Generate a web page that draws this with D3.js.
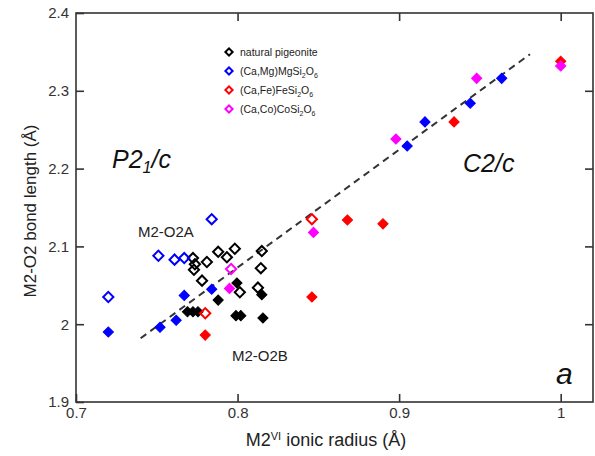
<!DOCTYPE html>
<html>
<head>
<meta charset="utf-8">
<script src="https://cdn.jsdelivr.net/npm/d3@7"></script>
<style>
  body { margin: 0; background: #fff; }
  text { font-family: Arial, "Liberation Sans", sans-serif; }
</style>
</head>
<body>
<div id="vis"></div>
<script>
// Data: [ionic radius, bond length]
let pigeoniteOpen = [[0.7724, 2.085], [0.7736, 2.077], [0.773, 2.070], [0.781, 2.080], [0.788, 2.093],
  [0.7934, 2.086], [0.7983, 2.097], [0.815, 2.094], [0.8144, 2.072], [0.778, 2.056], [0.8014, 2.041], [0.8126, 2.047]];
let pigeoniteFilled = [[0.769, 2.016], [0.7724, 2.016], [0.7755, 2.016], [0.788, 2.031], [0.7996, 2.053],
  [0.799, 2.011], [0.802, 2.011], [0.8157, 2.008], [0.815, 2.038]];
let mgOpen = [[0.72, 2.035], [0.751, 2.088], [0.761, 2.083], [0.767, 2.085], [0.784, 2.135]];
let mgFilled = [[0.72, 1.99], [0.752, 1.996], [0.762, 2.005], [0.767, 2.037], [0.784, 2.045],
  [0.905, 2.229], [0.916, 2.26], [0.944, 2.284], [0.9635, 2.316]];
let feOpen = [[0.78, 2.014], [0.846, 2.135]];
let feFilled = [[0.78, 1.986], [0.846, 2.035], [0.868, 2.134], [0.89, 2.129], [0.934, 2.26], [1.0, 2.338]];
let coOpen = [[0.796, 2.071]];
let coFilled = [[0.795, 2.046], [0.847, 2.118], [0.898, 2.238], [0.948, 2.316], [1.0, 2.332]];
let trendLine = [[0.74, 1.982], [0.981, 2.347]];

let xTicks = [0.7, 0.8, 0.9, 1.0];
let xTickLabels = ['0.7', '0.8', '0.9', '1'];
let yTicks = [1.9, 2.0, 2.1, 2.2, 2.3, 2.4];
let yTickLabels = ['1.9', '2', '2.1', '2.2', '2.3', '2.4'];

let legendNames = ['natural pigeonite', '(Ca,Mg)MgSi', '(Ca,Fe)FeSi', '(Ca,Co)CoSi'];
let legendColors = ['#000000', '#0000ff', '#ff0000', '#ff00ff'];

// Set up dimensions
let width = 595,
    height = 456;

let margin = { top: 13, bottom: 54, left: 76, right: 2 };

let svg = d3.select('#vis')
            .append('svg')
            .attr('width', width)
            .attr('height', height);

let xScale = d3.scaleLinear()
    .domain([0.7, 1.02])
    .range([margin.left, width - margin.right]);

let yScale = d3.scaleLinear()
    .domain([1.9, 2.4])
    .range([height - margin.bottom, margin.top]);

let axisColor = '#333';

// Axes with inward ticks
let xAxis = svg.append('g')
    .attr('transform', `translate(0, ${height - margin.bottom})`)
    .call(d3.axisBottom(xScale).tickValues(xTicks)
      .tickFormat((d, i) => xTickLabels[i]).tickSizeInner(-8).tickSizeOuter(0).tickPadding(5));

let yAxis = svg.append('g')
    .attr('transform', `translate(${margin.left}, 0)`)
    .call(d3.axisLeft(yScale).tickValues(yTicks)
      .tickFormat((d, i) => yTickLabels[i]).tickSizeInner(-8).tickSizeOuter(0).tickPadding(7));

svg.append('g')
    .attr('transform', `translate(0, ${margin.top})`)
    .call(d3.axisTop(xScale).tickValues(xTicks.slice(1)).tickFormat('').tickSizeInner(-8).tickSizeOuter(0));

svg.append('g')
    .attr('transform', `translate(${width - margin.right}, 0)`)
    .call(d3.axisRight(yScale).tickValues(yTicks.slice(1, -1)).tickFormat('').tickSizeInner(-8).tickSizeOuter(0));

svg.selectAll('.domain').remove();
svg.selectAll('.tick line').attr('stroke', axisColor).attr('stroke-width', 1.6);
svg.selectAll('.tick text').attr('fill', '#333').style('font-size', '15px');

// Frame
svg.append('rect')
    .attr('x', margin.left)
    .attr('y', margin.top)
    .attr('width', width - margin.left - margin.right)
    .attr('height', height - margin.top - margin.bottom)
    .attr('fill', 'none')
    .attr('stroke', axisColor)
    .attr('stroke-width', 1.6);

// Axis titles
svg.append('text')
    .attr('x', -211)
    .attr('y', 36)
    .attr('transform', 'rotate(-90)')
    .style('text-anchor', 'middle')
    .style('font-size', '17px')
    .attr('fill', '#222')
    .text('M2-O2 bond length (Å)');

let xTitle = svg.append('text')
    .attr('x', 326)
    .attr('y', 446)
    .style('text-anchor', 'middle')
    .style('font-size', '18px')
    .attr('fill', '#222');
xTitle.append('tspan').text('M2');
xTitle.append('tspan').attr('dy', -6).style('font-size', '11px').text('VI');
xTitle.append('tspan').attr('dy', 6).text(' ionic radius (Å)');

// Trend line
svg.append('path')
    .datum(trendLine)
    .attr('d', d3.line().x(d => xScale(d[0])).y(d => yScale(d[1])))
    .attr('fill', 'none')
    .attr('stroke', '#333')
    .attr('stroke-width', 2)
    .attr('stroke-dasharray', '7,5');

// Diamond markers
let diamond = d3.symbol().type(d3.symbolSquare).size(52);

function drawPoints(data, color, filled) {
  svg.append('g')
    .selectAll('path')
    .data(data)
    .enter()
    .append('path')
    .attr('d', diamond)
    .attr('transform', d => `translate(${xScale(d[0])}, ${yScale(d[1])}) rotate(45)`)
    .attr('fill', filled ? color : 'none')
    .attr('stroke', color)
    .attr('stroke-width', filled ? 1 : 2);
}

drawPoints(pigeoniteOpen, legendColors[0], false);
drawPoints(pigeoniteFilled, legendColors[0], true);
drawPoints(mgOpen, legendColors[1], false);
drawPoints(mgFilled, legendColors[1], true);
drawPoints(feFilled, legendColors[2], true);
drawPoints(feOpen, legendColors[2], false);
drawPoints(coOpen, legendColors[3], false);
drawPoints(coFilled, legendColors[3], true);

// Legend
let legend = svg.append('g');
legendNames.forEach((name, i) => {
  let ly = 52 + i * 19;
  legend.append('path')
      .attr('d', d3.symbol().type(d3.symbolSquare).size(26))
      .attr('transform', `translate(229, ${ly}) rotate(45)`)
      .attr('fill', 'none')
      .attr('stroke', legendColors[i])
      .attr('stroke-width', 2);
  let t = legend.append('text')
      .attr('x', 240)
      .attr('y', ly + 4)
      .style('font-size', '10.5px')
      .attr('fill', '#222');
  t.append('tspan').text(name);
  if (i > 0) {
    t.append('tspan').attr('dy', 3).style('font-size', '7px').text('2');
    t.append('tspan').attr('dy', -3).text('O');
    t.append('tspan').attr('dy', 3).style('font-size', '7px').text('6');
  }
});

// Annotations
let p21c = svg.append('text')
    .attr('x', 112)
    .attr('y', 168)
    .style('font-size', '25px')
    .style('font-style', 'italic')
    .attr('fill', '#111');
p21c.append('tspan').text('P2');
p21c.append('tspan').attr('dy', 5).style('font-size', '16px').text('1');
p21c.append('tspan').attr('dy', -5).text('/c');

svg.append('text')
    .attr('x', 463)
    .attr('y', 172)
    .style('font-size', '25px')
    .style('font-style', 'italic')
    .attr('fill', '#111')
    .text('C2/c');

svg.append('text')
    .attr('x', 138)
    .attr('y', 237)
    .style('font-size', '15px')
    .attr('fill', '#222')
    .text('M2-O2A');

svg.append('text')
    .attr('x', 232)
    .attr('y', 361)
    .style('font-size', '15px')
    .attr('fill', '#222')
    .text('M2-O2B');

svg.append('text')
    .attr('x', 556)
    .attr('y', 384)
    .style('font-size', '30px')
    .style('font-style', 'italic')
    .attr('fill', '#111')
    .text('a');
</script>
</body>
</html>
